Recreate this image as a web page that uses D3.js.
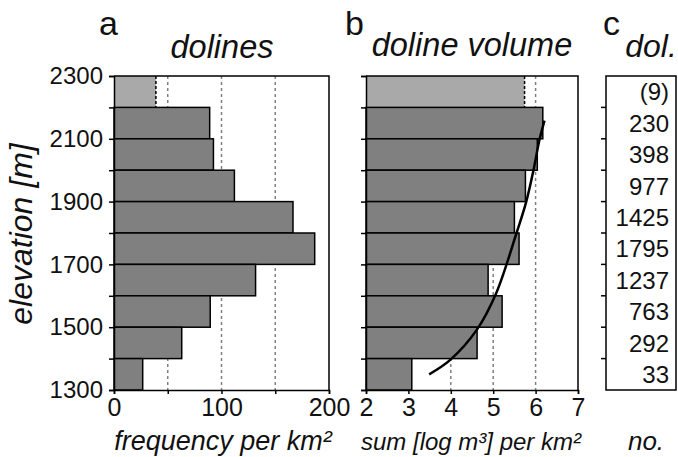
<!DOCTYPE html>
<html>
<head>
<meta charset="utf-8">
<script src="https://cdn.jsdelivr.net/npm/d3@7"></script>
<style>
  body { margin: 0; background: #fff; }
  svg { display: block; font-family: "Liberation Sans", Arial, sans-serif; }
</style>
</head>
<body>
<svg id="chart" width="678" height="457"></svg>
<script>
// elevation bins (lower bound, m), top to bottom
const binLow = [2200, 2100, 2000, 1900, 1800, 1700, 1600, 1500, 1400, 1300];
const freq = [39, 89, 92.5, 112, 166.5, 186.7, 131.7, 89.5, 63, 26.7];
const volume = [5.74, 6.17, 6.04, 5.76, 5.5, 5.61, 4.88, 5.21, 4.62, 3.08];
const counts = ['(9)', '230', '398', '977', '1425', '1795', '1237', '763', '292', '33'];
// fitted curve in panel b: [volume, elevation]
const fitCurve = [[3.49, 1350], [3.98, 1395], [4.62, 1493], [5.07, 1608], [5.55, 1800],
                  [5.78, 1900], [5.95, 2000], [6.09, 2096], [6.21, 2158]];
const elevTicks = [1300, 1500, 1700, 1900, 2100, 2300];
const freqTicks = [0, 100, 200];
const volTicks = [2, 3, 4, 5, 6, 7];

const svg = d3.select('#chart');
const yTop = 76, yBot = 390;
const y = d3.scaleLinear().domain([1300, 2300]).range([yBot, yTop]);
const step = y(1300) - y(1400);

const xa = d3.scaleLinear().domain([0, 200]).range([114, 329]);
const xb = d3.scaleLinear().domain([2, 7]).range([366, 578]);

const dark = '#808080', light = '#a9a9a9';

function grid(g, x, vals) {
    g.selectAll('line.grid').data(vals).join('line')
        .attr('class', 'grid')
        .attr('x1', d => x(d)).attr('x2', d => x(d))
        .attr('y1', yTop).attr('y2', yBot)
        .attr('stroke', '#808080').attr('stroke-width', 1.5)
        .attr('stroke-dasharray', '3,3');
}

function bars(g, x, vals) {
    const rows = binLow.map((b, i) => ({ b, v: vals[i], i }));
    g.selectAll('rect.bar').data(rows).join('rect')
        .attr('class', 'bar')
        .attr('x', x.range()[0])
        .attr('y', d => y(d.b + 100))
        .attr('width', d => x(d.v) - x.range()[0])
        .attr('height', step)
        .attr('fill', d => d.i === 0 ? light : dark)
        .attr('stroke', d => d.i === 0 ? 'none' : '#000')
        .attr('stroke-width', 1.5);
    // dashed edge of the incomplete top bin
    g.append('line')
        .attr('x1', x(vals[0])).attr('x2', x(vals[0]))
        .attr('y1', yTop).attr('y2', y(2200))
        .attr('stroke', '#000').attr('stroke-width', 1.5)
        .attr('stroke-dasharray', '3,2');
}

function frame(g, x0, x1) {
    g.append('path')
        .attr('d', `M${x0},${yTop}H${x1}V${yBot}`)
        .attr('fill', 'none').attr('stroke', '#000').attr('stroke-width', 1.5);
}

function yAxis(g, x0, labels) {
    const ax = d3.axisLeft(y)
        .tickValues(d3.range(1300, 2301, 100))
        .tickSize(5).tickPadding(6)
        .tickFormat(d => labels && elevTicks.includes(d) ? d : '');
    const a = g.append('g').attr('transform', `translate(${x0},0)`).call(ax);
    a.select('.domain').attr('stroke-width', 1.5);
    a.selectAll('line').attr('stroke-width', 1.5);
    a.selectAll('text').attr('font-size', 24).attr('fill', '#111')
        .attr('font-family', '"Liberation Sans", Arial, sans-serif');
}

function xAxis(g, x, vals, labels) {
    const ax = d3.axisBottom(x).tickValues(vals).tickSize(4).tickPadding(4)
        .tickFormat(d => labels.includes(d) ? d : '');
    const a = g.append('g').attr('transform', `translate(0,${yBot})`).call(ax);
    a.select('.domain').attr('stroke-width', 1.5);
    a.selectAll('line').attr('stroke-width', 1.5);
    a.selectAll('text').attr('font-size', 25).attr('fill', '#111')
        .attr('font-family', '"Liberation Sans", Arial, sans-serif');
}

// ---- panel a
const ga = svg.append('g');
grid(ga, xa, [50, 100, 150]);
bars(ga, xa, freq);
frame(ga, 114, 329);
yAxis(ga, 114, true);
xAxis(ga, xa, [0, 50, 100, 150, 200], freqTicks);

// ---- panel b
const gb = svg.append('g');
grid(gb, xb, [4, 5, 6]);
bars(gb, xb, volume);
frame(gb, 366, 578);
yAxis(gb, 366, false);
xAxis(gb, xb, volTicks, volTicks);
gb.append('path')
    .attr('d', d3.line().x(d => xb(d[0])).y(d => y(d[1])).curve(d3.curveCatmullRom)(fitCurve))
    .attr('fill', 'none').attr('stroke', '#000').attr('stroke-width', 2.5);

// ---- panel c
const gc = svg.append('g');
gc.append('rect').attr('x', 606).attr('y', yTop).attr('width', 70).attr('height', yBot - yTop)
    .attr('fill', 'none').attr('stroke', '#000').attr('stroke-width', 1.5);
gc.selectAll('line.tk').data(binLow.slice(0, -1)).join('line')
    .attr('x1', 601).attr('x2', 606).attr('y1', d => y(d)).attr('y2', d => y(d))
    .attr('stroke', '#000').attr('stroke-width', 1.5);
gc.selectAll('text.cnt').data(binLow).join('text')
    .attr('x', 669).attr('y', d => y(d + 50))
    .attr('dy', '0.36em').attr('text-anchor', 'end')
    .attr('font-size', 24).attr('fill', '#111')
    .text((d, i) => counts[i]);

// ---- labels
const lbl = (x, yy, t, size, italic, anchor, rot) => {
    const el = svg.append('text').attr('x', x).attr('y', yy)
        .attr('font-size', size).attr('fill', '#111')
        .attr('text-anchor', anchor || 'start')
        .attr('font-style', italic ? 'italic' : 'normal').text(t);
    if (rot) el.attr('transform', `rotate(-90,${x},${yy})`);
    return el;
};
lbl(99, 35, 'a', 34);
lbl(345, 35, 'b', 34);
lbl(603, 35, 'c', 34);
lbl(222, 58, 'dolines', 32.5, true, 'middle');
lbl(472, 56, 'doline volume', 32.5, true, 'middle');
lbl(651, 57, 'dol.', 32, true, 'middle');
lbl(32, 234, 'elevation [m]', 32, true, 'middle', true);
lbl(223, 450, 'frequency per km²', 27, true, 'middle');
lbl(471, 450, 'sum [log m³] per km²', 24, true, 'middle');
lbl(646, 450, 'no.', 26, true, 'middle');
</script>
</body>
</html>
